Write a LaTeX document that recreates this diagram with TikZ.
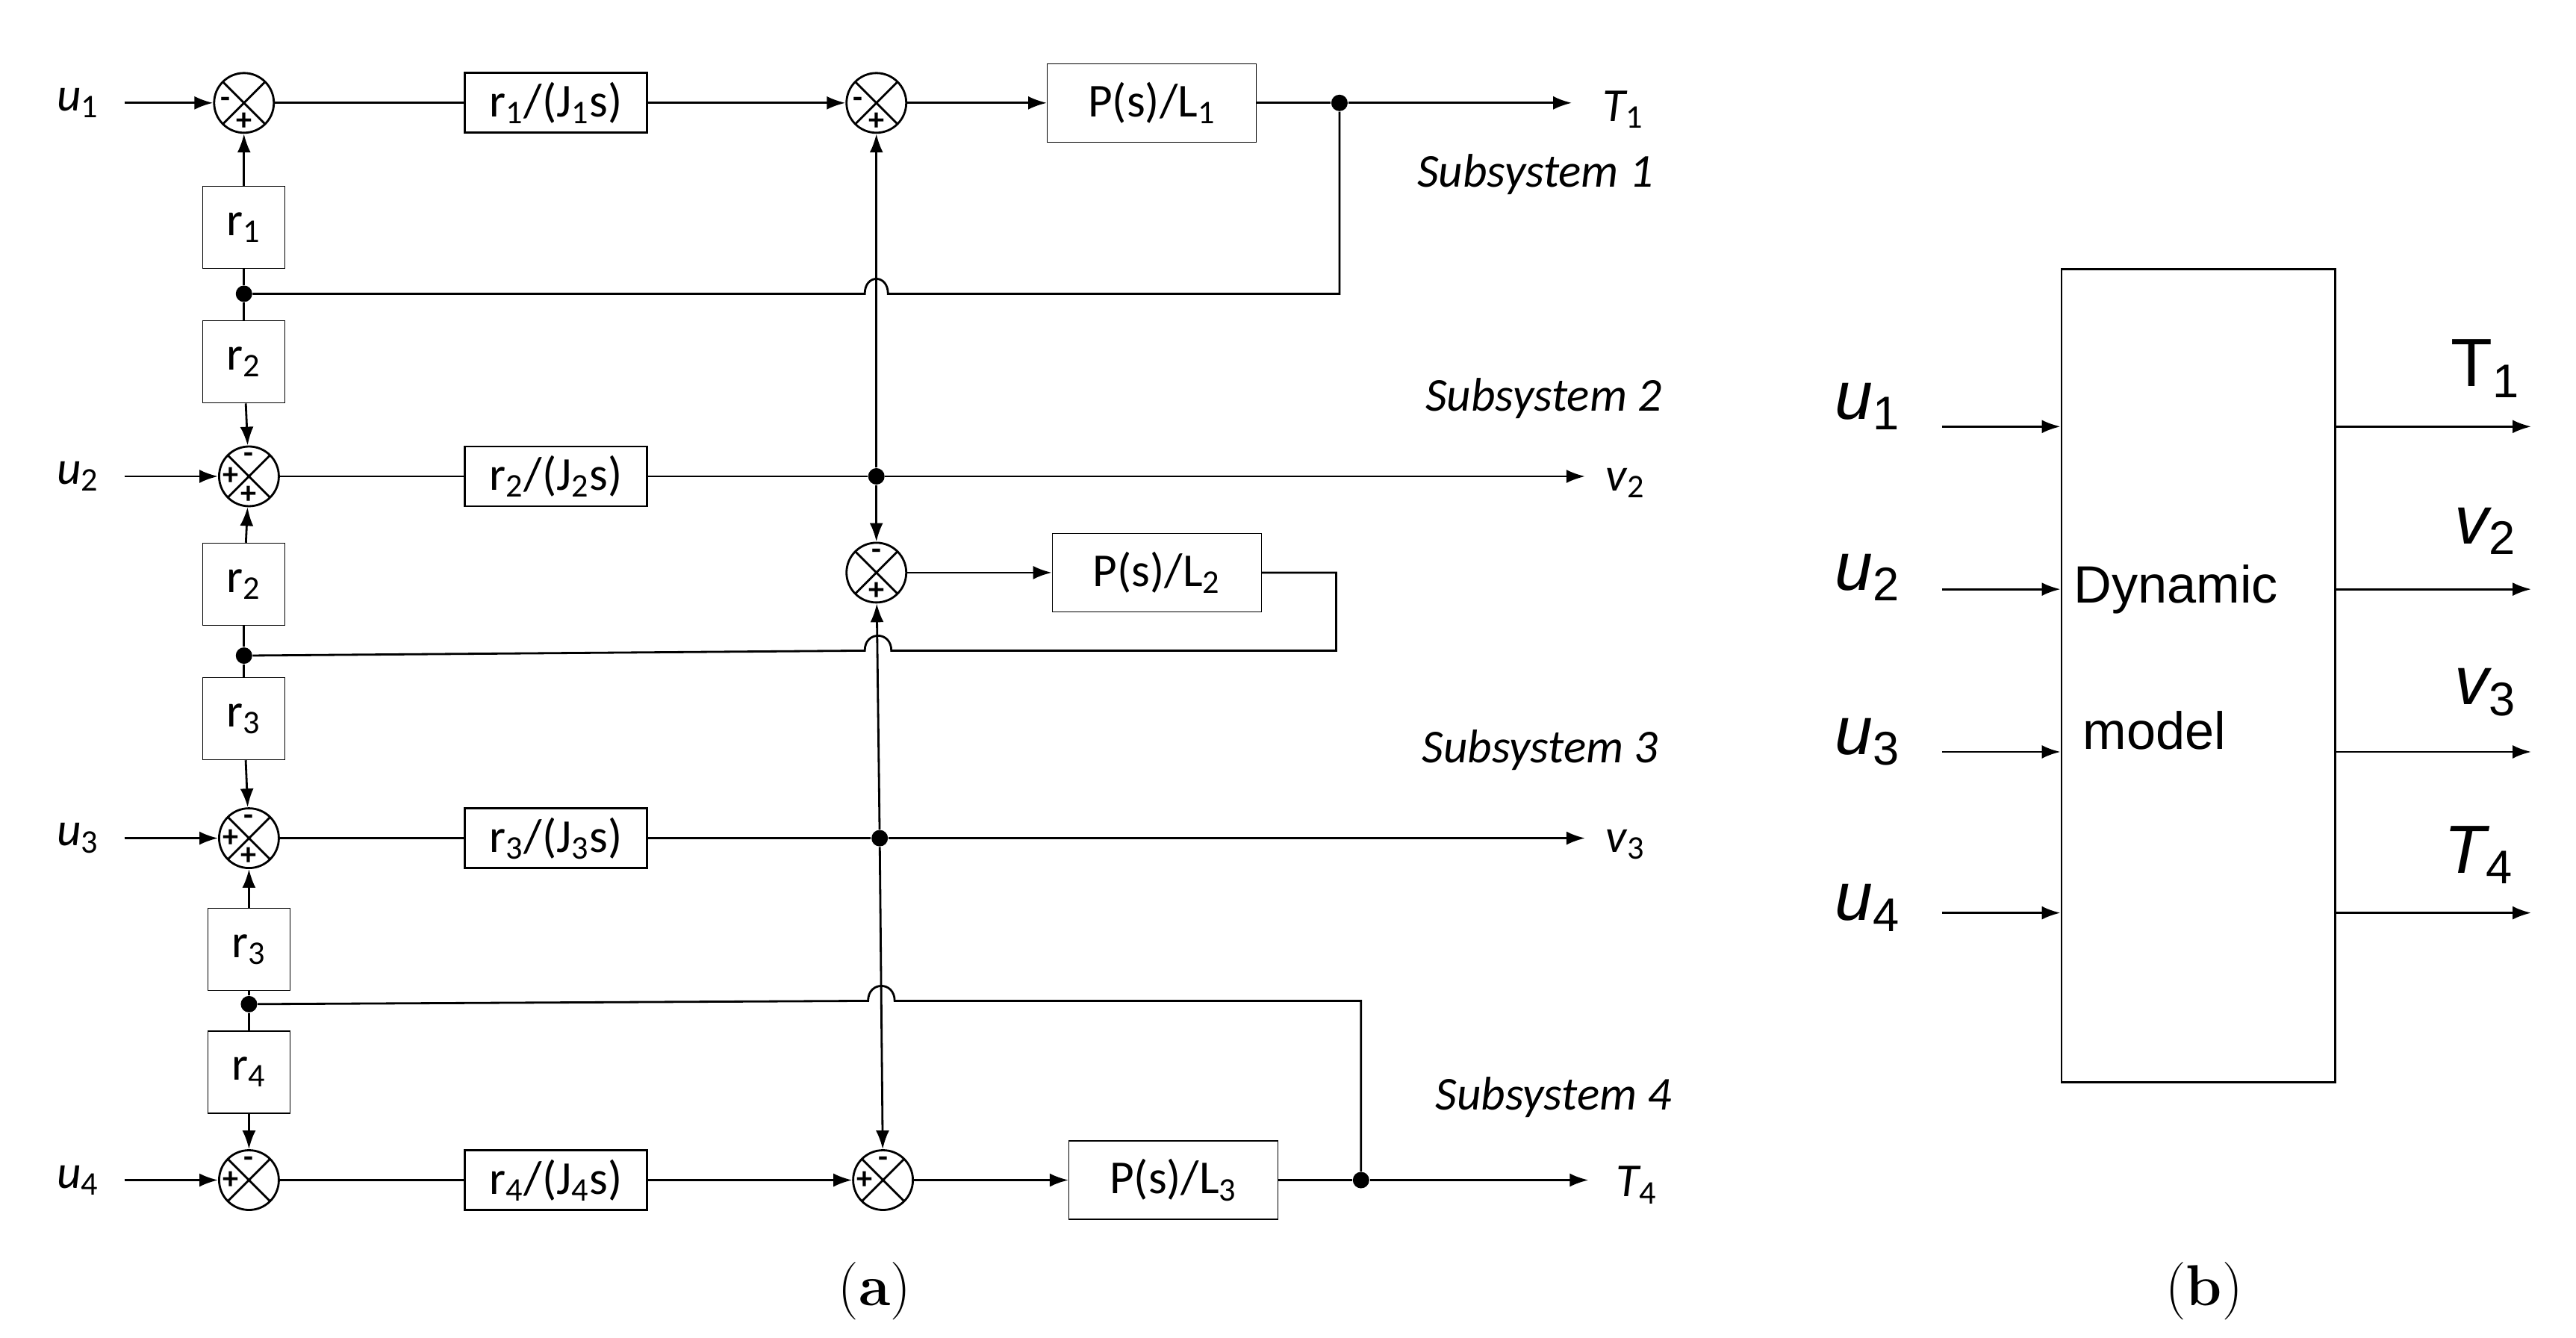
\documentclass[tikz,border=0pt]{standalone}
\usepackage{fontspec}
\setmainfont{Carlito}
\newfontfamily\arialf{Liberation Sans}
\newfontfamily\serf{Latin Modern Roman}
\usetikzlibrary{arrows.meta,fit}
\tikzset{
  sum/.style={draw,circle,thick,minimum size=8mm,inner sep=0pt,
    path picture={\draw (path picture bounding box.north west) -- (path picture bounding box.south east)
      (path picture bounding box.north east) -- (path picture bounding box.south west);}},
  blk/.style={draw,thick,minimum width=24.4mm,minimum height=8mm,font=\fontsize{18}{20}\selectfont},
  gain/.style={draw,minimum width=11mm,minimum height=11mm,font=\fontsize{18}{20}\selectfont},
  plant/.style={draw,minimum width=28mm,minimum height=10.5mm,font=\fontsize{18}{20}\selectfont},
  sgn/.style={font=\fontsize{12}{12}\selectfont\bfseries,inner sep=0pt},
  dot/.style={circle,fill,inner sep=0pt,minimum size=2.2mm},
  sig/.style={-{Latex[length=2.5mm,width=1.8mm]},thick},
  wire/.style={thick},
  lab/.style={font=\fontsize{18}{20}\selectfont\itshape},
  big/.style={font=\arialf\fontsize{26}{28}\selectfont},
  bigi/.style={font=\arialf\fontsize{26}{28}\selectfont\itshape},
}
\newcommand{\sbs}[1]{\textsubscript{\normalfont#1}}
\newcommand{\bsub}[1]{\raisebox{-0.3ex}{\normalfont\arialf\fontsize{18}{20}\selectfont#1}}
\begin{document}
\begin{tikzpicture}[x=0.02223cm,y=-0.02223cm]
\useasboundingbox (0,0) rectangle (1552,806);

% Panel (a): inputs and left summing points
\foreach \i/\y/\xs in {1/62/147,2/287/150,3/505/150,4/711/150}{
  \node[lab] (u\i) at (47,\y) {u\sbs{\i}};
  \node[sum] (s\i) at (\xs,\y) {};
  \coordinate (ui\i) at (75,\y);
  \draw[sig] (ui\i) -- (s\i.west);
}
\node[sgn] at ([xshift=-7pt]s1.center) {-};
\node[sgn] at ([yshift=-7pt]s1.center) {+};
\foreach \i in {2,3}{
  \node[sgn] at ([xshift=-7pt]s\i.center) {+};
  \node[sgn] at ([yshift=7pt]s\i.center) {-};
  \node[sgn] at ([yshift=-7pt]s\i.center) {+};
}
\node[sgn] at ([xshift=-7pt]s4.center) {+};
\node[sgn] at ([yshift=7pt]s4.center) {-};

% Gains
\node[gain] (g1) at (147,137) {r\sbs{1}};
\node[gain] (g2) at (147,218) {r\sbs{2}};
\node[gain] (g3) at (147,352) {r\sbs{2}};
\node[gain] (g4) at (147,433) {r\sbs{3}};
\node[gain] (g5) at (150,572) {r\sbs{3}};
\node[gain] (g6) at (150,646) {r\sbs{4}};
\node[dot] (d1) at (147,177) {};
\node[dot] (d2) at (147,395) {};
\node[dot] (d3) at (150,605) {};
\draw[sig] (g1) -- (s1);
\draw[wire] (g1) -- (d1) -- (g2);
\draw[sig] (g2) -- (s2);
\draw[sig] (g3) -- (s2);
\draw[wire] (g3) -- (d2) -- (g4);
\draw[sig] (g4) -- (s3);
\draw[sig] (g5) -- (s3);
\draw[wire] (g5) -- (d3) -- (g6);
\draw[sig] (g6) -- (s4);

% Integrators
\foreach \i/\y in {1/62,2/287,3/505,4/711}{
  \node[blk] (j\i) at (335,\y) {r\sbs{\i}/(J\sbs{\i}s)};
  \draw[wire] (s\i) -- (j\i);
}

% Middle summing points
\node[sum] (m1) at (528,62) {};
\node[sum] (m2) at (528,345) {};
\node[sum] (m4) at (532,711) {};
\node[sgn] at ([xshift=-7pt]m1.center) {-};
\node[sgn] at ([yshift=-7pt]m1.center) {+};
\node[sgn] at ([yshift=7pt]m2.center) {-};
\node[sgn] at ([yshift=-7pt]m2.center) {+};
\node[sgn] at ([xshift=-7pt]m4.center) {+};
\node[sgn] at ([yshift=7pt]m4.center) {-};
\draw[sig] (j1) -- (m1);
\draw[sig] (j4) -- (m4);

% Plants
\node[plant] (p1) at (694,62) {P(s)/L\sbs{1}};
\node[plant] (p2) at (697,345) {P(s)/L\sbs{2}};
\node[plant] (p3) at (707,711) {P(s)/L\sbs{3}};
\draw[sig] (m1) -- (p1);
\draw[sig] (m2) -- (p2);
\draw[sig] (m4) -- (p3);

% Outputs
\coordinate (e1) at (947,62);
\coordinate (e2) at (955,287);
\coordinate (e3) at (955,505);
\coordinate (e4) at (957,711);
\node[lab,anchor=west] (y1) at (960,66) {T\sbs{1}};
\node[lab,anchor=west] (y2) at (962,291) {v\sbs{2}};
\node[lab,anchor=west] (y3) at (962,509) {v\sbs{3}};
\node[lab,anchor=west] (y4) at (968,714) {T\sbs{4}};
\node[dot] (o1) at (807,62) {};
\node[dot] (o2) at (528,287) {};
\node[dot] (o3) at (530,505) {};
\node[dot] (o4) at (820,711) {};
\draw[wire] (p1) -- (o1);
\draw[sig] (o1) -- (e1);
\draw[sig] (j2) -- (o2) -- (e2);
\draw[sig] (j3) -- (o3) -- (e3);
\draw[wire] (p3) -- (o4);
\draw[sig] (o4) -- (e4);
\draw[sig] (o2) -- (m1);
\draw[sig] (o2) -- (m2);
\draw[sig] (o3) -- (m2);
\draw[sig] (o3) -- (m4);

% Feedback lines with jumps
\draw[wire] (o1) -- (807,177) -- (535,177) .. controls (535,165) and (521,165) .. (521,177) -- (d1);
\draw[wire] (p2.east) -- (805,345) -- (805,392) -- (537,392) .. controls (537,380) and (521,380) .. (521,392) -- (d2);
\draw[wire] (o4) -- (820,603) -- (539,603) .. controls (539,591) and (523,591) .. (523,603) -- (d3);

% Subsystem labels
\node[lab] (t1) at (925,105) {Subsystem 1};
\node[lab] (t2) at (930,240) {Subsystem 2};
\node[lab] (t3) at (928,452) {Subsystem 3};
\node[lab] (t4) at (936,661) {Subsystem 4};

% Panel (b)
\node[draw,thick,inner sep=0pt,fit={(1242,162) (1407,652)}] (dm) {};
\node[font=\arialf\fontsize{20}{22}\selectfont] (dt) at (1311,355) {Dynamic};
\node[font=\arialf\fontsize{20}{22}\selectfont] (mt) at (1298,440) {model};
\foreach \i/\y/\ly in {1/257/245,2/355/348,3/453/447,4/550/547}{
  \node[bigi] (bu\i) at (1125,\ly) {u\bsub{\i}};
  \coordinate (bi\i) at (1170,\y);
  \coordinate (bo\i) at (1525,\y);
  \draw[sig] (bi\i) -- (dm.west |- bi\i);
  \draw[sig] (dm.east |- bo\i) -- (bo\i);
}
\node[big] (bt1) at (1497,222) {T\bsub{1}};
\node[bigi] (bv2) at (1497,320) {v\bsub{2}};
\node[bigi] (bv3) at (1497,417) {v\bsub{3}};
\node[bigi] (bt4) at (1493,515) {T\bsub{4}};

% Captions
\node[font=\serf\fontsize{22}{24}\selectfont] (ca) at (527,778) {(\textbf{a})};
\node[font=\serf\fontsize{22}{24}\selectfont] (cb) at (1328,778) {(\textbf{b})};
\end{tikzpicture}
\end{document}
